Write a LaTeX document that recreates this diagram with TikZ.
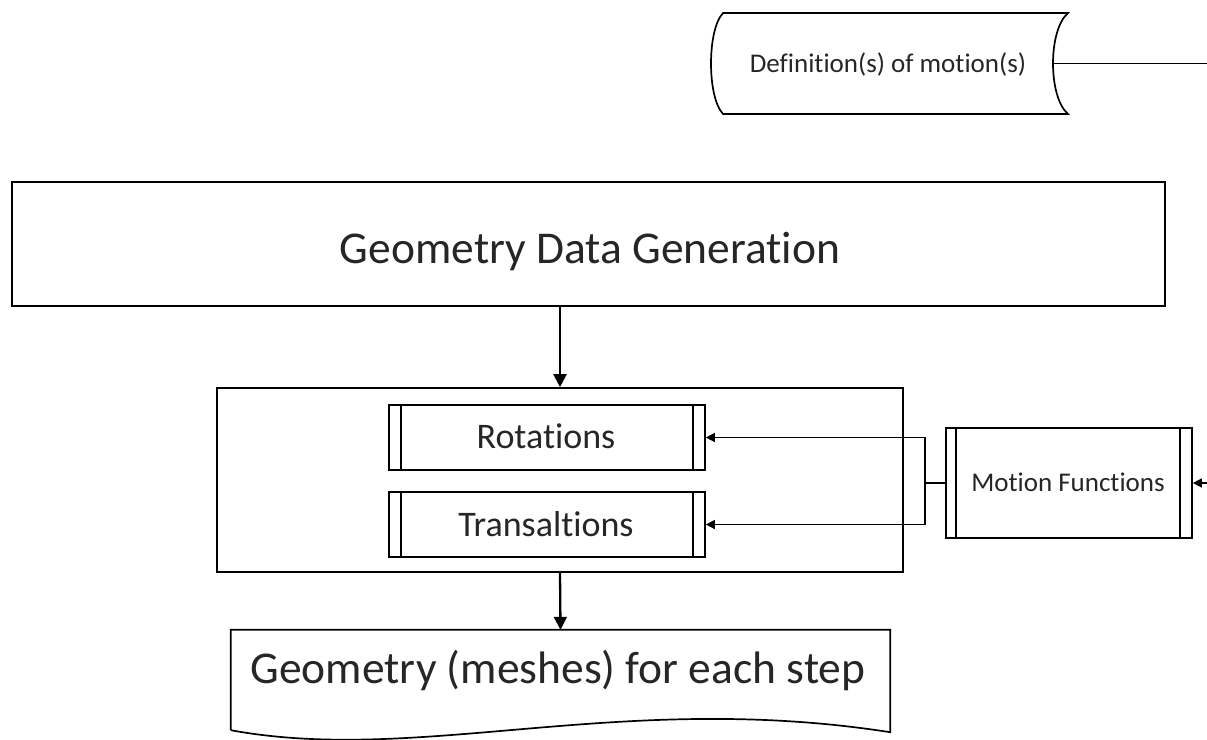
\documentclass[tikz,border=0pt]{standalone}
\usepackage{fontspec}
\setmainfont{Carlito}[Ligatures={NoCommon,NoRequired,NoContextual,NoRare}]
\newcommand{\nlg}{\kern0pt}
\usetikzlibrary{arrows.meta}
\begin{document}
\begin{tikzpicture}[x=1pt,y=-1pt,
  line join=miter,
  thin/.style={line width=1.7pt, draw=black},
  thick2/.style={line width=2.6pt, draw=black},
  bigarr/.style={line width=2.3pt, draw=black, -{Triangle[length=13pt,width=13pt]}},
  smallarr/.style={line width=1.5pt, draw=black, -{Triangle[length=9pt,width=9pt]}},
  proc/.style={thin, rectangle, inner sep=0pt},
  bigtxt/.style={font=\fontsize{45.5}{52}\selectfont, text=black!85},
  midtxt/.style={font=\fontsize{36}{42}\selectfont, text=black!85},
  smltxt/.style={font=\fontsize{27}{32}\selectfont, text=black!85}
]
\useasboundingbox (0,0) rectangle (1207,739);

% Definition(s) of motion(s) -- stored data shape
\draw[thin] (723,13) -- (1068,13)
  .. controls (1048,30) and (1048,97) .. (1068,114)
  -- (723,114)
  .. controls (707,97) and (707,30) .. (723,13) -- cycle;
\node[smltxt, anchor=base] (def) at (888,72) {Def\nlg i\nlg nit\nlg ion(s) of mot\nlg ion(s)};
\coordinate (defout) at (1053,63.5);
\coordinate (rightA) at (1207,63.5);
\draw[thin] (defout) -- (rightA);

% Geometry Data Generation
\node[thick2, rectangle, minimum width=1153pt, minimum height=124pt, inner sep=0pt] (gdg) at (588.5,244) {};
\node[bigtxt, anchor=base] (gdgt) at (590,263) {Geometry Data Generat\nlg ion};

% Container
\node[thin, rectangle, minimum width=686pt, minimum height=184pt, inner sep=0pt] (cont) at (560,480) {};

% Rotations
\node[proc, minimum width=316pt, minimum height=65pt] (rot) at (547,437.5) {};
\draw[thin] ([xshift=13pt]rot.north west) -- ([xshift=13pt]rot.south west);
\draw[thin] ([xshift=-13pt]rot.north east) -- ([xshift=-13pt]rot.south east);
\node[midtxt, anchor=base] (rott) at (546,448) {Rotat\nlg ions};

% Transaltions
\node[proc, minimum width=316pt, minimum height=65pt] (tr) at (547,524.5) {};
\draw[thin] ([xshift=13pt]tr.north west) -- ([xshift=13pt]tr.south west);
\draw[thin] ([xshift=-13pt]tr.north east) -- ([xshift=-13pt]tr.south east);
\node[midtxt, anchor=base] (trt) at (546,536) {Transalt\nlg ions};

% Motion Functions
\node[proc, minimum width=246pt, minimum height=110pt] (mf) at (1069,483) {};
\draw[thin] ([xshift=11pt]mf.north west) -- ([xshift=11pt]mf.south west);
\draw[thin] ([xshift=-13pt]mf.north east) -- ([xshift=-13pt]mf.south east);
\node[smltxt, anchor=base] (mft) at (1068,491) {Mot\nlg ion Funct\nlg ions};

% Document: Geometry (meshes) for each step
\node[rectangle, inner sep=0pt, minimum width=659pt, minimum height=100pt] (doc) at (560.5,680) {};
\draw[thin] (doc.south west) -- (doc.north west) -- (doc.north east) -- ([yshift=-2pt]doc.south east)
  .. controls (620,690) and (420,765) .. (doc.south west);
\node[bigtxt, anchor=base] (doct) at (558,683) {Geometry (meshes) for each step};

% Connectors
\draw[bigarr] (gdg.south -| cont.north) -- (cont.north);
\draw[bigarr] (cont.south) -- (doc.north);
\coordinate (br) at (925,483);
\draw[thin] (mf.west) -- (br);
\draw[smallarr] (br) |- (rot.east);
\draw[smallarr] (br) |- (tr.east);
\coordinate (rightB) at (1207,483);
\draw[smallarr] (rightB) -- (mf.east);
\end{tikzpicture}
\end{document}
